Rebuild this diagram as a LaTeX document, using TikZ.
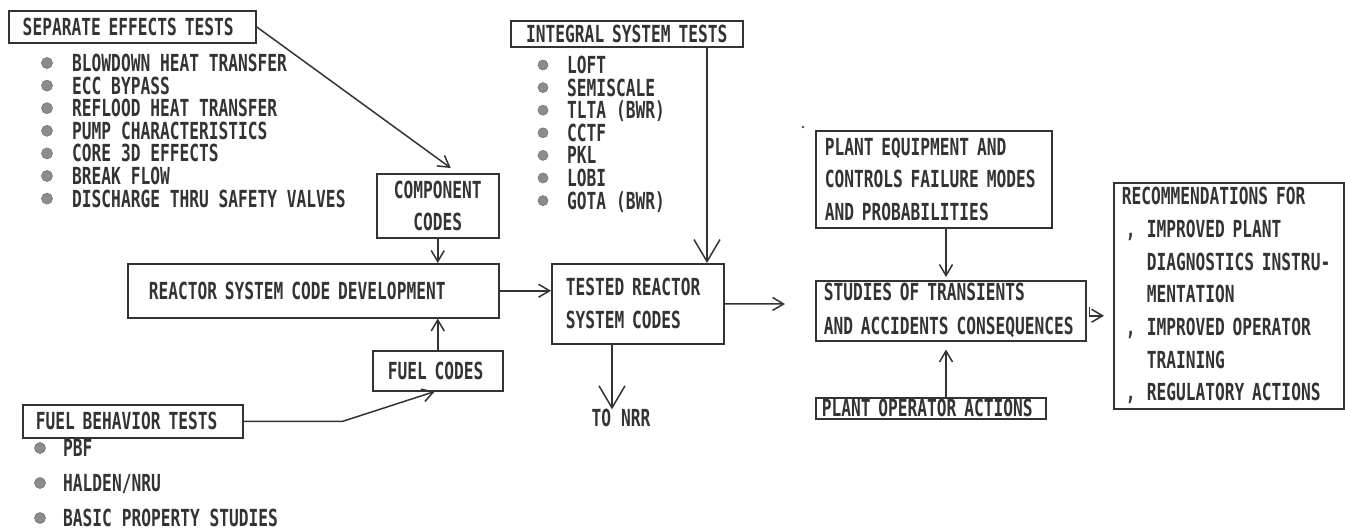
\documentclass[tikz,border=0pt]{standalone}
\usepackage{fontspec}
\setmainfont{DejaVu Sans Mono}[FakeStretch=0.69]
\usetikzlibrary{arrows.meta}
\newcommand\dgfont{\fontsize{23.5}{33}\selectfont\bfseries}
\begin{document}
\begin{tikzpicture}[x=1pt,y=-1pt,
  box/.style={draw=black!80, line width=1.5pt, rectangle, inner ysep=0pt,
    text=black!80, font=\dgfont, anchor=north west},
  oneline/.style={text height=17pt, text depth=0pt},
  lbl/.style={inner sep=0pt, text=black!80, font=\dgfont, text height=17pt, text depth=0pt},
  bul/.style={fill=black!45, draw=black!55, line width=0.6pt},
  arr/.style={draw=black!80, line width=1.5pt,
    -{Straight Barb[length=11pt,width=13pt]}},
  bigarr/.style={draw=black!80, line width=1.5pt,
    -{Straight Barb[length=22pt,width=26pt]}}]
\useasboundingbox (0,0) rectangle (1345,531);

% ---- left column: tests and code development ----
\node[box, oneline, minimum height=32pt, inner xsep=14pt, text width=219pt, align=left]
  (sep) at (8,10) {SEPARATE EFFECTS TESTS};
\foreach \t [count=\i] in {BLOWDOWN HEAT TRANSFER, ECC BYPASS, REFLOOD HEAT TRANSFER,
    PUMP CHARACTERISTICS, CORE 3D EFFECTS, BREAK FLOW, DISCHARGE THRU SAFETY VALVES} {
  \fill[bul] (47,{63+22.6*(\i-1)}) circle[radius=5.5pt];
  \node[lbl, anchor=west] (se\i) at (72,{63+22.6*(\i-1)}) {\t};
}

\node[box, minimum height=64pt, inner xsep=8pt, text width=106pt, align=center,
  font=\fontsize{23.5}{32}\selectfont\bfseries] (comp) at (376,173) {COMPONENT\\CODES};

\node[box, oneline, minimum height=54pt, inner xsep=21pt, text width=329pt, align=left]
  (reac) at (127,263) {REACTOR SYSTEM CODE DEVELOPMENT};

\node[box, oneline, minimum height=40pt, inner xsep=15pt, text width=100pt, align=left]
  (fuelc) at (372,350) {FUEL CODES};

\node[box, oneline, minimum height=33pt, inner xsep=13pt, text width=194pt, align=left]
  (fbt) at (22,404) {FUEL BEHAVIOR TESTS};
\foreach \t [count=\i] in {PBF, HALDEN/NRU, BASIC PROPERTY STUDIES} {
  \fill[bul] (40,{448+35*(\i-1)}) circle[radius=5.5pt];
  \node[lbl, anchor=west] (fb\i) at (63,{448+35*(\i-1)}) {\t};
}

% ---- middle column: integral tests ----
\node[box, oneline, minimum height=26pt, inner xsep=8pt, text width=216pt, align=center]
  (ist) at (510,20) {INTEGRAL SYSTEM TESTS};
\foreach \t [count=\i] in {LOFT, SEMISCALE, TLTA (BWR), CCTF, PKL, LOBI, GOTA (BWR)} {
  \fill[bul] (543,{65+22.6*(\i-1)}) circle[radius=5pt];
  \node[lbl, anchor=west] (it\i) at (567,{65+22.6*(\i-1)}) {\t};
}

\node[box, minimum height=80pt, inner xsep=14pt, text width=144pt, align=left]
  (tested) at (551,263) {TESTED REACTOR\\SYSTEM CODES};
\node[lbl] (nrr) at (621,418) {TO NRR};

% ---- right column: consequences and recommendations ----
\node[box, minimum height=97pt, inner xsep=9pt, text width=218pt, align=left,
  font=\fontsize{23.5}{32.5}\selectfont\bfseries] (plant) at (815,130)
  {PLANT EQUIPMENT AND\\CONTROLS FAILURE MODES\\AND PROBABILITIES};
\fill[black!70] (803,127) circle[radius=1.3pt];

\node[box, minimum height=60pt, inner xsep=8pt, text width=254pt, align=left,
  font=\fontsize{23.5}{34}\selectfont\bfseries] (studies) at (815,280)
  {STUDIES OF TRANSIENTS\\AND ACCIDENTS CONSEQUENCES};

\node[box, oneline, minimum height=21pt, inner xsep=6pt, text width=218pt, align=left]
  (poa) at (815,397) {PLANT OPERATOR ACTIONS};

\node[box, minimum height=226pt, inner xsep=8pt, text width=214pt, align=left,
  font=\fontsize{23.5}{32.7}\selectfont\bfseries] (rec) at (1113,182)
  {RECOMMENDATIONS FOR\\
   \makebox[25pt][l]{\hspace{4pt},}IMPROVED PLANT\\
   \hspace*{25pt}DIAGNOSTICS INSTRU-\\
   \hspace*{25pt}MENTATION\\
   \makebox[25pt][l]{\hspace{4pt},}IMPROVED OPERATOR\\
   \hspace*{25pt}TRAINING\\
   \makebox[25pt][l]{\hspace{4pt},}REGULATORY ACTIONS};

% ---- connectors ----
\coordinate (fbend) at (343,0);
\coordinate (istx) at (707,0);
\coordinate (nrrx) at (612,0);
\coordinate (vx) at (946,0);
\coordinate (tsend) at (785,304);

\draw[arr] (sep.east) -- ([xshift=13pt,yshift=5pt]comp.north);
\draw[arr] (comp.south) -- (comp.south |- reac.north);
\draw[arr] (fuelc.north) -- (fuelc.north |- reac.south);
\draw[arr] (fbt.east) -- (fbt.east -| fbend) -- ([xshift=-3pt]fuelc.south);
\draw[arr] (reac.east) -- (reac.east -| tested.west);
\draw[bigarr] (ist.south -| istx) -- (tested.north -| istx);
\draw[bigarr] (tested.south -| nrrx) -- (nrr.north -| nrrx);
\draw[arr] (tested.east) -- (tsend);
\draw[arr] (plant.south -| vx) -- ([yshift=3pt]studies.north -| vx);
\draw[arr] (poa.north -| vx) -- ([yshift=-8pt]studies.south -| vx);
\draw[arr] ([xshift=3pt,yshift=4pt]studies.east) |- ([xshift=-9pt,yshift=-20pt]rec.west);
\end{tikzpicture}
\end{document}
